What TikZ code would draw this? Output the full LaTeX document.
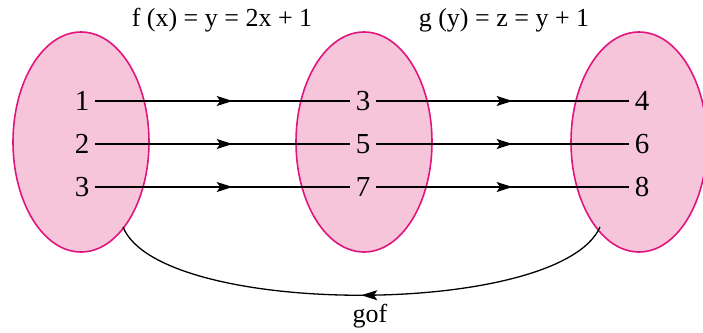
\documentclass[tikz,border=0pt]{standalone}
\usepackage{fontspec}
\setmainfont{Liberation Serif}
\usetikzlibrary{shapes.geometric,arrows.meta,decorations.markings}
\definecolor{setfill}{HTML}{F7C5DA}
\definecolor{setdraw}{HTML}{E0157E}
\tikzset{
  setbox/.style={ellipse, draw=setdraw, fill=setfill, line width=1.6pt, minimum width=136pt, minimum height=220pt, inner sep=0pt},
  num/.style={font=\fontsize{29}{29}\selectfont, inner ysep=0pt, inner xsep=6pt},
  title/.style={font=\fontsize{26}{26}\selectfont},
  maparrow/.style={line width=1.3pt, postaction={decorate}, decoration={markings, mark=at position #1 with {\arrow{Stealth[length=16pt,width=10pt,inset=3.5pt]}}}},
  maparrow/.default=0.54
}
\begin{document}
\begin{tikzpicture}[x=1pt,y=-1pt]
\useasboundingbox (0,0) rectangle (703,332);
\node[setbox] (X) at (81,142) {};
\node[setbox] (Y) at (364,142) {};
\node[setbox] (Z) at (639,142) {};
\node[title] (ft) at (222,20) {f (x) = y = 2x + 1};
\node[title] (gt) at (504,20) {g (y) = z = y + 1};
\node[num] (a1) at (82,101) {1};
\node[num] (a2) at (82,144) {2};
\node[num] (a3) at (82,187) {3};
\node[num] (b1) at (363,101) {3};
\node[num] (b2) at (363,144) {5};
\node[num] (b3) at (363,187) {7};
\node[num] (c1) at (642,101) {4};
\node[num] (c2) at (642,144) {6};
\node[num] (c3) at (642,187) {8};
\foreach \i in {1,2,3}{
  \draw[maparrow] (a\i.east) -- (b\i.west);
  \draw[maparrow] (b\i.east) -- (c\i.west);
}
\coordinate (zs) at (600,227);
\coordinate (xe) at (123,227);
\draw[maparrow=0.5] (zs) .. controls (560,318) and (160,318) .. (xe);
\node[title] (gof) at (370,316) {gof};
\end{tikzpicture}
\end{document}
